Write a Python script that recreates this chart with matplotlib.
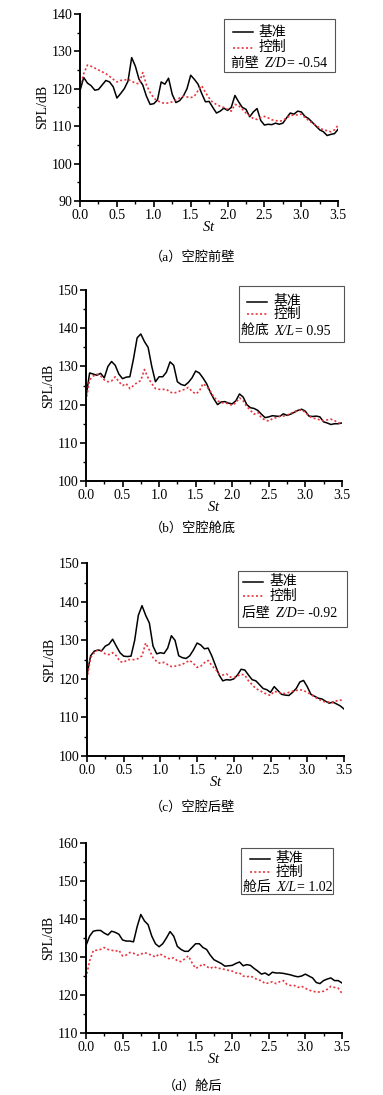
import matplotlib
matplotlib.use('Agg')
import matplotlib.pyplot as plt
import numpy as np
from matplotlib.lines import Line2D
from matplotlib.patches import Rectangle
from matplotlib.ticker import MultipleLocator, FormatStrFormatter
from matplotlib.offsetbox import TextArea, HPacker, AnnotationBbox

plt.rcParams['font.family'] = ['Liberation Serif', 'Noto Sans CJK SC']
plt.rcParams['mathtext.fontset'] = 'custom'
plt.rcParams['mathtext.it'] = 'Liberation Serif:italic'
plt.rcParams['mathtext.rm'] = 'Liberation Serif'

# St 采样点 (0 ~ 3.5, 步长 0.05)
st = np.arange(0, 3.501, 0.05)

# (a) 空腔前壁
a_base = [119.5, 123.0, 121.5, 120.8, 119.6, 119.8, 121.0, 122.2, 121.8, 120.5,
          117.5, 118.7, 120.0, 122.0, 128.3, 126.0, 122.5, 121.0, 118.0, 115.8,
          116.0, 117.0, 121.8, 121.2, 122.8, 118.5, 116.3, 116.8, 118.0, 120.0,
          123.6, 122.5, 121.2, 118.7, 116.5, 116.6, 115.0, 113.5, 114.0, 114.8,
          114.2, 115.0, 118.2, 116.5, 115.0, 114.5, 112.5, 113.8, 114.7, 111.5,
          110.3, 110.5, 110.4, 110.8, 110.5, 110.8, 112.2, 113.5, 113.2, 114.0,
          113.8, 112.6, 112.0, 111.0, 110.0, 109.0, 108.5, 107.5, 107.8, 108.0,
          109.2]
a_ctrl = [120.5, 124.0, 126.3, 126.0, 125.5, 125.0, 124.5, 124.0, 123.3, 122.5,
          121.8, 122.2, 122.3, 122.5, 122.0, 121.5, 121.3, 124.3, 121.0, 119.0,
          117.5, 116.8, 116.3, 116.1, 116.2, 116.5, 117.0, 117.5, 118.0, 117.8,
          117.6, 118.0, 119.5, 120.8, 119.0, 117.5, 116.3, 115.8, 115.3, 115.0,
          114.5, 114.0, 115.8, 115.5, 114.5, 113.5, 112.8, 112.0, 111.8, 112.3,
          112.6, 112.2, 111.7, 111.5, 111.3, 111.5, 112.2, 112.8, 113.0, 113.0,
          113.2, 112.3, 111.5, 110.8, 110.2, 109.5, 109.0, 108.8, 108.5, 109.0,
          110.3]

# (b) 空腔舱底
b_base = [122.0, 128.3, 128.0, 127.7, 128.2, 127.0, 130.0, 131.3, 130.3, 128.0,
          126.8, 127.2, 127.3, 132.0, 137.5, 138.5, 136.5, 135.0, 130.0, 126.0,
          127.3, 127.3, 128.5, 131.2, 130.3, 126.0, 125.3, 125.0, 125.8, 127.0,
          128.8, 128.3, 127.0, 125.5, 123.3, 121.5, 120.0, 120.7, 120.8, 120.4,
          120.2, 121.0, 122.8, 122.0, 120.0, 119.2, 119.0, 118.5, 117.5, 116.6,
          116.8, 117.1, 117.0, 116.9, 117.6, 117.2, 117.5, 118.0, 118.5, 118.8,
          118.3, 117.0, 116.9, 117.0, 116.8, 115.5, 115.2, 114.8, 115.0, 115.0,
          115.2]
b_ctrl = [121.0, 126.5, 127.5, 128.0, 127.5, 126.5, 126.0, 126.2, 127.3, 126.0,
          125.0, 125.5, 124.2, 125.0, 125.8, 126.3, 129.2, 127.0, 125.5, 124.2,
          124.0, 124.0, 124.0, 123.3, 123.0, 123.3, 123.7, 124.0, 124.5, 123.5,
          122.8, 123.5, 125.5, 124.8, 123.5, 122.0, 121.0, 120.5, 120.5, 120.2,
          119.8, 120.5, 121.8, 121.0, 119.5, 118.5, 117.5, 118.0, 116.5, 116.0,
          115.7, 116.3, 116.6, 117.0, 117.0, 117.3, 117.7, 118.2, 118.5, 118.6,
          118.0, 117.0, 116.5, 116.3, 116.0, 115.8, 116.0, 116.2, 115.8, 115.3,
          115.0]

# (c) 空腔后壁
c_base = [121.0, 126.0, 127.2, 127.5, 127.3, 128.5, 129.0, 130.3, 128.5, 126.8,
          125.9, 125.8, 125.9, 130.0, 136.5, 139.0, 136.5, 134.5, 128.5, 126.5,
          126.8, 126.6, 128.0, 131.2, 130.0, 126.0, 125.5, 125.3, 126.0, 127.5,
          129.3, 128.8, 127.8, 128.0, 126.0, 123.5, 121.0, 119.5, 119.8, 119.7,
          120.0, 121.0, 122.5, 122.3, 121.0, 119.8, 119.5, 118.5, 117.5, 117.2,
          116.5, 118.0, 117.0, 116.0, 115.8, 115.7, 116.5, 117.5, 119.2, 119.6,
          118.0, 116.0, 115.5, 115.0, 114.8, 114.2, 113.7, 114.0, 113.5, 113.0,
          112.2]
c_ctrl = [120.0, 125.5, 126.8, 127.5, 127.2, 126.5, 126.3, 126.8, 126.0, 124.5,
          124.3, 125.0, 125.0, 125.0, 125.3, 126.0, 129.3, 127.5, 125.5, 124.5,
          124.0, 124.3, 123.7, 123.2, 123.3, 123.5, 123.8, 124.3, 124.8, 124.0,
          123.0, 123.3, 124.2, 124.8, 123.5, 122.5, 121.3, 121.0, 121.3, 120.5,
          120.3, 120.8, 121.2, 121.0, 119.5, 118.5, 117.5, 117.0, 116.5, 116.0,
          115.7, 116.8, 116.5, 116.3, 116.2, 116.5, 116.8, 117.0, 117.2, 117.0,
          116.5, 116.0, 115.3, 114.8, 114.3, 114.0, 114.0, 113.8, 114.3, 114.5,
          114.3]

# (d) 舱后
d_base = [133.0, 135.5, 136.8, 137.0, 137.0, 136.3, 135.8, 136.8, 136.5, 136.0,
          134.5, 134.2, 134.2, 134.0, 138.0, 141.2, 139.5, 138.5, 135.5, 133.5,
          132.7, 133.5, 135.0, 136.7, 135.5, 132.8, 132.0, 131.5, 131.5, 132.5,
          133.5, 133.5, 132.5, 132.0, 130.5, 129.3, 128.8, 128.3, 127.6, 127.7,
          127.8, 128.3, 128.7, 127.7, 128.0, 127.8, 127.0, 126.3, 125.5, 125.8,
          125.2, 126.0, 125.8, 125.8, 125.7, 125.5, 125.3, 125.0, 124.8, 125.0,
          125.5, 125.0, 124.5, 123.3, 123.0, 123.8, 124.2, 124.5, 123.8, 123.8,
          123.2]
d_ctrl = [124.5, 129.0, 131.7, 131.8, 132.0, 132.5, 132.0, 131.8, 131.5, 131.8,
          130.3, 130.5, 131.2, 131.0, 130.5, 130.7, 131.2, 130.8, 130.5, 130.0,
          130.8, 130.5, 129.8, 129.5, 129.8, 129.0, 128.8, 129.5, 130.3, 128.5,
          127.0, 127.5, 128.2, 127.5, 127.0, 127.5, 127.0, 127.0, 126.7, 126.5,
          126.3, 125.8, 125.8, 125.0, 124.8, 125.0, 124.5, 124.0, 123.8, 123.0,
          123.2, 123.5, 123.0, 123.5, 123.8, 122.8, 122.5, 122.5, 122.0, 122.3,
          121.8, 121.3, 121.0, 120.8, 120.8, 121.0, 121.5, 122.3, 122.0, 121.8,
          120.5]

ylims = [(90, 140), (100, 150), (100, 150), (110, 160)]
note_pos = ['前壁', '舱底', '后壁', '舱后']
note_var = ['Z/D', 'X/L', 'Z/D', 'X/L']
note_val = ['= -0.54', '= 0.95', '= -0.92', '= 1.02']
captions = ['（a）空腔前壁', '（b）空腔舱底', '（c）空腔后壁', '（d）舱后']
base_all = [a_base, b_base, c_base, d_base]
ctrl_all = [a_ctrl, b_ctrl, c_ctrl, d_ctrl]

# 子图位置 [left, bottom, width, height]
boxes = [[0.209, 0.8164, 0.674, 0.171],
         [0.2245, 0.5607, 0.668, 0.1744],
         [0.227, 0.3096, 0.671, 0.176],
         [0.2245, 0.0566, 0.668, 0.1735]]
# 图例框: x0, x1, y0, y1, 行位置, 线段 x0, x1, 文字 x, 第三行 x
legs = [(0.558, 0.988, 0.690, 0.973, [0.902, 0.820, 0.736], 0.593, 0.671, 0.690, 0.585),
        (0.599, 1.008, 0.729, 1.021, [0.939, 0.873, 0.785], 0.628, 0.706, 0.732, 0.604),
        (0.589, 1.010, 0.667, 0.960, [0.903, 0.829, 0.742], 0.608, 0.686, 0.709, 0.602),
        (0.604, 0.966, 0.730, 0.972, [0.916, 0.846, 0.767], 0.643, 0.721, 0.742, 0.612)]
cap_y = [257, 528, 807, 1086]

red = '#e8343c'
fs = 10
fig = plt.figure(figsize=(3.83, 10.95), dpi=100)

for i in range(4):
    ax = fig.add_axes(boxes[i])
    ax.plot(st, base_all[i], color='black', lw=1.1)
    ax.plot(st, ctrl_all[i], color=red, lw=1.2, ls=(0, (1.2, 1.4)))
    ax.set_xlim(0, 3.5)
    ax.set_ylim(*ylims[i])
    ax.xaxis.set_major_locator(MultipleLocator(0.5))
    ax.xaxis.set_minor_locator(MultipleLocator(0.25))
    ax.yaxis.set_major_locator(MultipleLocator(10))
    ax.yaxis.set_minor_locator(MultipleLocator(5))
    ax.xaxis.set_major_formatter(FormatStrFormatter('%.1f'))
    for s in ['top', 'right']:
        ax.spines[s].set_visible(False)
    for s in ['left', 'bottom']:
        ax.spines[s].set_linewidth(1.4)
    ax.tick_params(which='major', direction='out', length=4, width=1.2, labelsize=10, pad=1.5)
    ax.tick_params(which='minor', direction='out', length=2.2, width=1.0)
    ax.set_ylabel('SPL/dB', fontsize=10, labelpad=2)
    ax.set_xlabel('$St$', fontsize=10.5, labelpad=-1)

    x0, x1, y0, y1, rows, hx0, hx1, tx, tx3 = legs[i]
    ax.add_patch(Rectangle((x0, y0), x1 - x0, y1 - y0, transform=ax.transAxes,
                           fill=False, edgecolor='#555555', lw=0.8, clip_on=False))
    ax.add_line(Line2D([hx0, hx1], [rows[0], rows[0]], transform=ax.transAxes,
                       color='black', lw=1.1, clip_on=False))
    ax.add_line(Line2D([hx0, hx1], [rows[1], rows[1]], transform=ax.transAxes,
                       color=red, lw=1.2, ls=(0, (1.2, 1.4)), clip_on=False))
    ax.text(tx, rows[0], '基准', transform=ax.transAxes, fontsize=fs, va='center', ha='left')
    ax.text(tx, rows[1], '控制', transform=ax.transAxes, fontsize=fs, va='center', ha='left')

    # 第三行: 位置 + 斜体变量 + 数值
    parts = [TextArea(note_pos[i] + '  ', textprops=dict(fontsize=fs, family=['Noto Sans CJK SC', 'DejaVu Sans'])),
             TextArea(note_var[i], textprops=dict(fontsize=fs, family='Liberation Serif', style='italic')),
             TextArea(note_val[i], textprops=dict(fontsize=fs, family='Liberation Serif'))]
    row3 = HPacker(children=parts, align='baseline', pad=0, sep=0)
    ab = AnnotationBbox(row3, (tx3, rows[2]), xycoords='axes fraction',
                        box_alignment=(0, 0.5), frameon=False, pad=0, annotation_clip=False)
    ax.add_artist(ab)

    fig.text(193 / 383, 1 - cap_y[i] / 1095, captions[i], fontsize=9.5,
             ha='center', va='center', family=['Liberation Serif', 'Noto Sans CJK SC'])

fig.savefig('out.png', dpi=100)
